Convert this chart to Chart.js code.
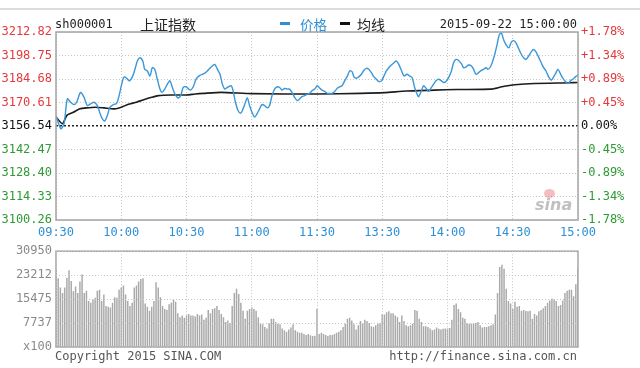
<!DOCTYPE html>
<html>
<head>
<meta charset="utf-8">
<script src="https://cdn.jsdelivr.net/npm/chart.js@4.4.0/dist/chart.umd.min.js"></script>
<style>
    html, body { margin: 0; padding: 0; background: #fff; }
    #wrap { position: relative; width: 640px; height: 368px; overflow: hidden; font-family: "DejaVu Sans Mono", monospace; font-size: 12px; }
    canvas { position: absolute; left: 0; }
    .t { position: absolute; white-space: nowrap; line-height: 14px; z-index: 2; }
    .cjk { font-family: "Noto Sans CJK SC", sans-serif; line-height: 16px; }
</style>
</head>
<body>
<div id="wrap">
    <div style="position:absolute;left:0;top:8px;width:640px;height:2px;background:#dcdcdc"></div>
    <canvas id="priceChart" width="640" height="244" style="top:0"></canvas>
    <canvas id="volChart" width="640" height="128" style="top:240px"></canvas>

    <div class="t" style="left:55px;top:17px;color:#222">sh000001</div>
    <div class="t cjk" style="left:140px;top:16px;font-size:14px;color:#222">上证指数</div>
    <div style="position:absolute;left:280px;top:22px;width:10px;height:3px;background:#2d8fd5"></div>
    <div class="t cjk" style="left:300px;top:16px;font-size:13.5px;color:#2d8fd5">价格</div>
    <div style="position:absolute;left:340px;top:22px;width:10px;height:3px;background:#111"></div>
    <div class="t cjk" style="left:357px;top:16px;font-size:14px;color:#222">均线</div>
    <div class="t" style="right:63px;top:17px;color:#222">2015-09-22 15:00:00</div>

    <div style="position:absolute;left:544px;top:189px;width:11px;height:9px;border-radius:50%;background:rgba(230,90,100,0.4);z-index:2"></div>
    <div class="t" style="left:535px;top:197px;font-family:'DejaVu Sans',sans-serif;font-style:italic;font-weight:bold;font-size:16px;line-height:16px;color:rgba(150,150,150,0.6)">sina</div>

    <div class="t" style="left:55px;top:349px;color:#555">Copyright 2015 SINA.COM</div>
    <div class="t" style="right:63px;top:349px;color:#555">http://finance.sina.com.cn</div>
</div>

<script>
(function () {
    "use strict";

    // ---- data ----
    const prevClose = 3156.54;
    const timeLabels = ["09:30", "10:00", "10:30", "11:00", "11:30", "13:30", "14:00", "14:30", "15:00"];
    const timeTickMinutes = [0, 30, 60, 90, 120, 150, 180, 210, 240];
    const priceTicks = [3100.26, 3114.33, 3128.40, 3142.47, 3156.54, 3170.61, 3184.68, 3198.75, 3212.82];
    const pctTicks = ["-1.78%", "-1.34%", "-0.89%", "-0.45%", "0.00%", "+0.45%", "+0.89%", "+1.34%", "+1.78%"];
    const volTicks = [0, 7737, 15475, 23212, 30950];
    const volTickLabels = ["x100", "7737", "15475", "23212", "30950"];

    // minutes since 09:30 (lunch break removed) and index price
    const priceTime = [
        0, 2.2, 3.7, 5.2, 6.7, 8.3, 9.5, 11.3, 12.9, 14.4, 15.9, 17.5, 19.0, 20.2, 21.3, 22.4, 23.6, 24.8, 26.4, 27.9,
        29.0, 30.2, 31.3, 32.5, 33.7, 35.1, 36.3, 37.4, 38.6, 39.9, 40.8, 42.0, 43.2, 44.3, 45.4, 46.6, 47.8, 48.7, 50.0, 51.2,
        52.4, 53.5, 54.7, 56.1, 57.3, 58.5, 59.8, 61.0, 61.9, 63.1, 64.4, 65.8, 67.3, 68.8, 70.3, 71.9, 73.0, 74.2, 75.4, 76.5,
        77.6, 78.8, 80.6, 81.4, 82.5, 83.7, 84.9, 86.0, 87.1, 88.0, 89.0, 90.1, 91.3, 92.6, 93.6, 94.7, 95.9, 97.2, 98.2, 99.3,
        100.5, 101.8, 102.8, 103.9, 105.1, 106.4, 107.4, 108.5, 109.7, 111.0, 112.0, 113.1, 114.3, 115.6, 116.6, 117.7, 118.9, 120.2, 121.2, 122.3,
        123.5, 124.8, 125.8, 126.9, 128.1, 129.4, 130.4, 131.5, 132.7, 134.0, 135.0, 136.1, 137.0, 138.1, 139.2, 140.4, 141.6, 142.7, 143.8, 145.0,
        146.2, 147.3, 148.4, 149.6, 150.8, 151.9, 153.0, 154.2, 155.4, 156.5, 157.6, 158.8, 160.0, 161.4, 162.5, 163.7, 164.9, 166.0, 166.7, 168.0,
        169.0, 170.1, 171.3, 172.6, 173.6, 174.7, 175.9, 177.2, 178.2, 179.3, 180.5, 181.8, 182.8, 183.9, 185.1, 186.4, 187.4, 188.5, 189.7, 191.0,
        192.0, 193.1, 194.3, 195.6, 196.6, 197.7, 198.6, 199.7, 200.8, 201.7, 202.8, 203.8, 204.8, 205.8, 206.9, 208.1, 209.4, 210.4, 211.5, 212.7,
        214.0, 215.0, 216.1, 217.3, 218.5, 219.6, 220.7, 221.9, 223.1, 224.2, 225.3, 226.5, 227.7, 228.8, 229.9, 230.8, 231.9, 233.0, 234.2, 235.4,
        236.5, 237.6, 238.8, 240.0
    ];
    const priceVals = [
        3162.85, 3154.96, 3157.92, 3172.72, 3170.75, 3169.36, 3170.75, 3176.66, 3173.71, 3168.77, 3169.76, 3170.75, 3168.77, 3164.23, 3160.88, 3159.50, 3162.85, 3167.79, 3169.36, 3170.15,
        3174.69, 3181.60, 3185.94, 3185.15, 3183.57, 3185.94, 3190.48, 3195.41, 3197.38, 3195.41, 3190.48, 3189.49, 3186.53, 3191.46, 3190.48, 3184.56, 3178.64, 3176.66, 3178.64, 3181.60,
        3183.57, 3179.62, 3175.68, 3173.31, 3174.69, 3179.62, 3180.02, 3178.64, 3178.05, 3180.02, 3184.56, 3186.53, 3187.52, 3188.50, 3190.48, 3192.45, 3193.44, 3190.48, 3187.52, 3181.60,
        3178.64, 3179.62, 3180.61, 3177.65, 3170.75, 3165.81, 3164.23, 3166.80, 3170.75, 3173.31, 3168.77, 3164.83, 3161.87, 3164.23, 3166.80, 3169.36, 3168.77, 3167.39, 3168.77, 3174.69,
        3178.64, 3180.02, 3179.62, 3178.05, 3179.03, 3178.64, 3178.64, 3176.66, 3173.71, 3171.73, 3172.72, 3174.10, 3174.69, 3175.68, 3176.07, 3177.65, 3178.64, 3180.61, 3179.23, 3178.05,
        3177.26, 3176.07, 3176.07, 3176.07, 3177.26, 3179.23, 3180.02, 3180.61, 3183.57, 3186.53, 3189.49, 3189.09, 3185.94, 3185.15, 3185.94, 3187.52, 3189.88, 3191.07, 3190.48, 3188.50,
        3185.94, 3184.56, 3183.18, 3183.57, 3186.53, 3189.49, 3191.46, 3193.04, 3194.42, 3195.41, 3193.44, 3189.88, 3186.53, 3187.52, 3186.53, 3185.54, 3179.62, 3175.68, 3174.10, 3177.65,
        3180.61, 3179.23, 3177.26, 3179.62, 3181.60, 3183.57, 3184.56, 3183.57, 3182.58, 3183.18, 3185.54, 3189.49, 3194.42, 3196.40, 3195.80, 3193.83, 3191.46, 3191.86, 3193.04, 3192.45,
        3190.48, 3187.52, 3188.50, 3189.88, 3190.48, 3191.46, 3190.48, 3191.86, 3195.41, 3199.35, 3205.27, 3211.19, 3212.18, 3208.23, 3205.27, 3203.30, 3206.85, 3207.64, 3206.26, 3202.90,
        3199.35, 3197.38, 3196.40, 3198.37, 3200.93, 3202.31, 3200.93, 3197.77, 3194.42, 3191.46, 3189.49, 3185.94, 3183.97, 3185.94, 3188.50, 3190.48, 3187.91, 3185.15, 3183.18, 3181.99,
        3183.57, 3184.56, 3185.94, 3187.12
    ];

    // average line
    const avgTime = [0, 3, 5, 8, 11, 14, 18, 22, 27, 30, 33, 37, 40, 44, 47, 53, 60, 64, 68, 76, 90, 120, 140, 151, 161, 174, 184, 200, 205, 211, 220, 236, 240];
    const avgVals = [
        3161.9, 3157.9, 3162.9, 3164.8, 3166.8, 3167.4, 3167.8, 3167.4, 3166.8, 3167.8, 3169.4, 3170.8, 3172.1, 3173.7, 3174.7, 3175.1, 3175.1,
        3175.7, 3176.1, 3176.7, 3175.9, 3175.7, 3176.1, 3176.5, 3177.5, 3178.0, 3178.4, 3178.6, 3180.0, 3181.2, 3182.0, 3182.4, 3182.6
    ];

    // volume per minute (x100), minutes 0..240
    const volumes = [
        25100, 22180, 19250, 17470, 19250, 22380, 24790, 21340, 17990, 19560,
        17470, 21130, 23430, 17470, 18200, 14850, 14330, 15380, 15900, 18200,
        18510, 14850, 16950, 13280, 12970, 12760, 14330, 16110, 15900, 18510,
        19250, 19870, 16950, 14850, 13280, 14330, 19250, 19870, 21130, 21970,
        22180, 14020, 12970, 11720, 12970, 14850, 20920, 19250, 16110, 13280,
        12240, 11920, 13810, 14330, 15380, 14640, 10880, 9620, 10150, 9410,
        10150, 10670, 10150, 10150, 9830, 10670, 10150, 10460, 8790, 9410,
        11920, 10880, 12240, 12550, 13280, 11920, 10670, 9620, 8050,
        8580, 7740, 13280, 17470, 18830, 17150, 14330, 11720, 9100, 11720,
        12240, 12760, 12240, 11720, 9620, 7530, 7320, 6490, 5960, 7740,
        9100, 9100, 8050, 7530, 7320, 5960, 5440, 4920, 5650, 6280,
        7320, 5440, 4920, 4600, 4600, 4180, 3870, 4180, 3770, 3560, 3600,
        12240,
        4180, 4600, 4180, 3870, 3560, 3870, 3870, 4180, 4600, 4920,
        5440, 6490, 7530, 9100, 9410, 8580, 7320, 5650, 7010, 8370,
        7740, 8790, 8370, 7740, 6690, 6490, 7010, 7530, 7740, 10670,
        10460, 11190, 11510, 10880, 10880, 10150, 9620, 8050,
        10150, 8370, 7010, 6690, 7010, 7530, 11920, 11720, 9100, 8050,
        6690, 6690, 6490, 5960, 5440, 5650, 6280, 5860, 5650, 5860,
        5960, 5960, 6100, 8790, 13600, 14020, 12240, 11190, 9410, 9100,
        7740, 7530, 7530, 7600, 7740, 8050, 7010, 6280, 6490, 6490,
        6690, 7010, 7320, 10460, 17470, 25840, 26570, 25310, 18830, 14850,
        14020, 12240, 14640, 12970, 13280, 11720, 11920, 11600, 11510, 11720,
        9100, 10670, 10150, 11510, 11920, 12550, 13280, 14330, 15060, 15690,
        15380, 14850, 13280, 13600, 15060, 17470, 18200, 18510, 18510, 16420,
        20290, 25520
    ];

    // ---- style ----
    const RED = "#e4393c";
    const GREEN = "#2f9a34";
    const BLUE = "#2d8fd5";
    const GRID = "#c6c6c6";
    const FONT = { family: "DejaVu Sans Mono", size: 12 };

    Chart.defaults.font.family = FONT.family;
    Chart.defaults.font.size = FONT.size;

    const frame = {
        id: "frame",
        afterDatasetsDraw(chart) {
            const { ctx, chartArea: a } = chart;
            ctx.save();
            ctx.strokeStyle = "#a4a4a4";
            ctx.lineWidth = 1.5;
            ctx.strokeRect(a.left, a.top, a.right - a.left, a.bottom - a.top);
            ctx.restore();
        },
    };

    const isBase = (v) => Math.abs(v - prevClose) < 0.005;
    const tickColor = (c) => {
        const v = c.tick.value;
        if (isBase(v)) return "#111";
        return v > prevClose ? RED : GREEN;
    };

    const xTicks = (scale) => {
        scale.ticks = timeTickMinutes.map((m) => ({ value: m }));
    };

    // ---- price chart ----
    new Chart(document.getElementById("priceChart").getContext("2d"), {
        type: "line",
        data: {
            datasets: [
                {
                    label: "价格",
                    data: priceTime.map((t, i) => ({ x: t, y: priceVals[i] })),
                    borderColor: "#3a97d8",
                    borderWidth: 1.4,
                    pointRadius: 0,
                    tension: 0.3,
                    order: 1,
                },
                {
                    label: "均线",
                    data: avgTime.map((t, i) => ({ x: t, y: avgVals[i] })),
                    borderColor: "#1c1c1c",
                    borderWidth: 1.6,
                    pointRadius: 0,
                    tension: 0.2,
                    order: 2,
                },
            ],
        },
        options: {
            responsive: false,
            animation: false,
            devicePixelRatio: 1,
            layout: { padding: { top: 32, left: 0, right: 0, bottom: 0 } },
            plugins: { legend: { display: false }, tooltip: { enabled: false } },
            scales: {
                x: {
                    type: "linear",
                    min: 0,
                    max: 240,
                    afterBuildTicks: xTicks,
                    afterFit: (s) => { s.height = 24; },
                    ticks: {
                        color: BLUE,
                        padding: 6,
                        maxRotation: 0,
                        autoSkip: false,
                        callback: (v, i) => timeLabels[i],
                    },
                    grid: { color: GRID, drawTicks: false },
                    border: { display: false, dash: [1, 2] },
                },
                y: {
                    position: "left",
                    min: priceTicks[0],
                    max: priceTicks[priceTicks.length - 1],
                    afterBuildTicks: (s) => { s.ticks = priceTicks.map((v) => ({ value: v })); },
                    afterFit: (s) => { s.width = 56; },
                    ticks: {
                        color: tickColor,
                        padding: 4,
                        callback: (v) => Number(v).toFixed(2),
                    },
                    grid: {
                        drawTicks: false,
                        color: (c) => (c.tick && isBase(c.tick.value) ? "#222" : GRID),
                        lineWidth: (c) => (c.tick && isBase(c.tick.value) ? 1.5 : 1),
                    },
                    border: {
                        display: false,
                        dash: (c) => (c.tick && isBase(c.tick.value) ? [2, 2] : [1, 2]),
                    },
                },
                y1: {
                    position: "right",
                    min: priceTicks[0],
                    max: priceTicks[priceTicks.length - 1],
                    afterBuildTicks: (s) => { s.ticks = priceTicks.map((v) => ({ value: v })); },
                    afterFit: (s) => { s.width = 62; },
                    ticks: {
                        color: tickColor,
                        padding: 3,
                        callback: (v, i) => pctTicks[i],
                    },
                    grid: { display: false, drawTicks: false },
                    border: { display: false },
                },
            },
        },
        plugins: [frame],
    });

    // ---- volume chart ----
    new Chart(document.getElementById("volChart").getContext("2d"), {
        type: "bar",
        data: {
            datasets: [
                {
                    label: "成交量",
                    data: volumes.map((v, i) => ({ x: i, y: v })),
                    backgroundColor: "#a9a9a9",
                    barPercentage: 0.68,
                    categoryPercentage: 1,
                },
            ],
        },
        options: {
            responsive: false,
            animation: false,
            devicePixelRatio: 1,
            layout: { padding: { top: 8, left: 0, right: 62, bottom: 21 } },
            plugins: { legend: { display: false }, tooltip: { enabled: false } },
            scales: {
                x: {
                    type: "linear",
                    min: 0,
                    max: 240,
                    offset: false,
                    afterBuildTicks: xTicks,
                    afterFit: (s) => { s.height = 0; },
                    ticks: { display: false },
                    grid: { color: GRID, drawTicks: false, offset: false, z: 1 },
                    border: { display: false, dash: [1, 2] },
                },
                y: {
                    min: 0,
                    max: volTicks[volTicks.length - 1],
                    afterBuildTicks: (s) => { s.ticks = volTicks.map((v) => ({ value: v })); },
                    afterFit: (s) => { s.width = 56; },
                    ticks: {
                        color: "#8a8a8a",
                        padding: 4,
                        callback: (v, i) => volTickLabels[i],
                    },
                    grid: { color: GRID, drawTicks: false, z: 1 },
                    border: { display: false, dash: [1, 2] },
                },
            },
        },
        plugins: [frame],
    });
})();
</script>
</body>
</html>
